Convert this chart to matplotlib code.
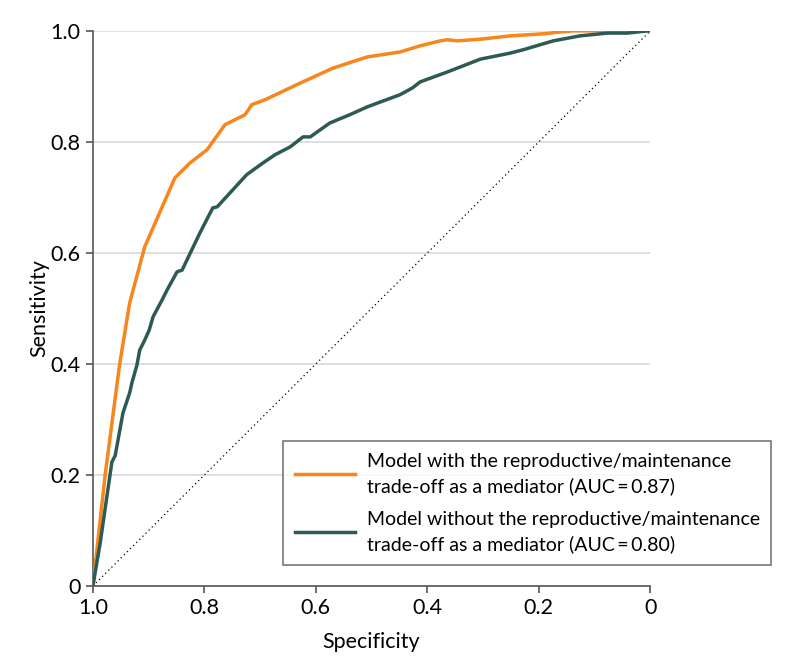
import matplotlib
matplotlib.use('Agg')
import matplotlib.pyplot as plt
import numpy as np

plt.rcParams['font.family'] = ['Lato', 'DejaVu Sans']

# ROC curves (specificity, sensitivity)
spec_with = [1.0, 0.978, 0.952, 0.934, 0.907, 0.853, 0.826, 0.795, 0.763, 0.727,
             0.715, 0.691, 0.628, 0.569, 0.508, 0.449, 0.413, 0.377, 0.364, 0.346,
             0.305, 0.251, 0.188, 0.162, 0.138, 0.0]
sens_with = [0.0, 0.2, 0.4, 0.51, 0.611, 0.735, 0.762, 0.786, 0.831, 0.849,
             0.867, 0.876, 0.906, 0.933, 0.953, 0.962, 0.973, 0.982, 0.984, 0.982,
             0.985, 0.991, 0.995, 0.998, 1.0, 1.0]

spec_without = [1.0, 0.987, 0.966, 0.960, 0.946, 0.934, 0.930, 0.921, 0.916,
                0.907, 0.899, 0.892, 0.876, 0.867, 0.849, 0.840, 0.808,
                0.785, 0.777, 0.724, 0.695, 0.673, 0.646, 0.623, 0.610, 0.575, 0.539,
                0.508, 0.449, 0.427, 0.413, 0.364, 0.305, 0.251, 0.228, 0.174, 0.126,
                0.077, 0.041, 0.005, 0.0]
sens_without = [0.0, 0.077, 0.223, 0.235, 0.312, 0.348, 0.366, 0.398, 0.425,
                0.443, 0.461, 0.485, 0.515, 0.533, 0.566, 0.569, 0.636,
                0.681, 0.683, 0.741, 0.762, 0.777, 0.791, 0.809, 0.809, 0.834, 0.849,
                0.863, 0.885, 0.897, 0.908, 0.926, 0.949, 0.960, 0.966, 0.982, 0.991,
                0.996, 0.996, 1.0, 1.0]

labels = ['Model with the reproductive/maintenance\ntrade-off as a mediator (AUC\u2009=\u20090.87)',
          'Model without the reproductive/maintenance\ntrade-off as a mediator (AUC\u2009=\u20090.80)']
ticks = [1.0, 0.8, 0.6, 0.4, 0.2, 0]
tick_labels = ['1.0', '0.8', '0.6', '0.4', '0.2', '0']

fig = plt.figure(figsize=(7.94, 6.71), dpi=100)
ax = fig.add_axes([0.117, 0.1267, 0.702, 0.8273])

ax.plot([1, 0], [0, 1], color='black', lw=0.9, ls=(0, (1, 2.5)), zorder=2)
ax.plot(spec_with, sens_with, color='#f7861c', lw=2.5, label=labels[0], zorder=3,
        solid_joinstyle='round')
ax.plot(spec_without, sens_without, color='#2d5a54', lw=2.5, label=labels[1], zorder=3,
        solid_joinstyle='round')

ax.set_xlim(1.0, 0)
ax.set_ylim(0, 1.0)
ax.set_xticks(ticks)
ax.set_xticklabels(tick_labels)
ax.set_yticks(ticks)
ax.set_yticklabels(tick_labels)
ax.yaxis.grid(True, color='#d9d9d9', lw=1.2)
ax.set_axisbelow(True)
for s in ['top', 'right']:
    ax.spines[s].set_visible(False)
for s in ['left', 'bottom']:
    ax.spines[s].set_color('#555555')
    ax.spines[s].set_linewidth(1.2)
ax.tick_params(direction='out', length=5, width=1.2, color='#555555', labelsize=15.5, pad=4)
ax.set_xlabel('Specificity', fontsize=15.5, labelpad=10)
ax.set_ylabel('Sensitivity', fontsize=15.5, labelpad=1)

leg = ax.legend(loc='upper left', bbox_to_anchor=(0.341, 0.261), borderaxespad=0,
                fontsize=14, frameon=True, fancybox=False, handlelength=3.1,
                borderpad=0.6, labelspacing=0.8, handletextpad=0.6)
for t in leg.get_texts():
    t.set_linespacing(1.5)
leg.get_frame().set_edgecolor('#555555')
leg.get_frame().set_linewidth(1.2)

fig.savefig('out.png', dpi=100)
